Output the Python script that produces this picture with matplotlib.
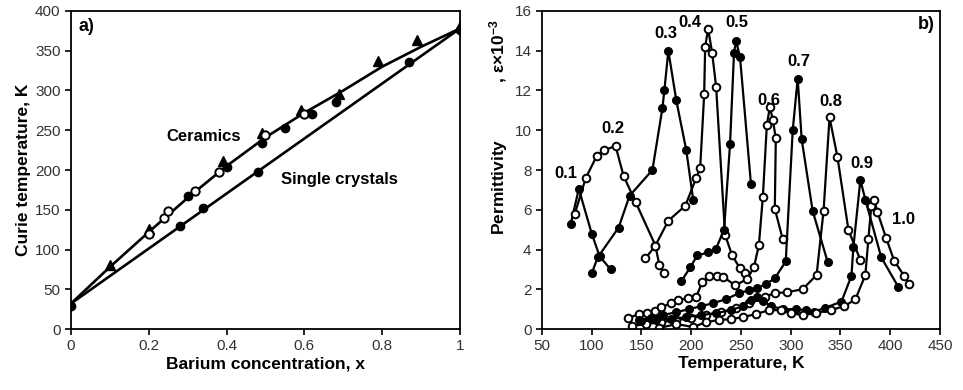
import matplotlib
matplotlib.use("Agg")
import matplotlib.pyplot as plt
from matplotlib import rcParams

rcParams.update({
    "font.family": ["Liberation Sans", "DejaVu Sans"],
    "mathtext.fontset": "custom",
    "mathtext.rm": "Liberation Sans",
    "mathtext.bf": "Liberation Sans:bold",
    "mathtext.default": "bf",
    "axes.unicode_minus": False,
})

# ---- panel a) Curie temperature vs Ba content
cer_line_x = [0, 0.1, 0.2, 0.3, 0.4, 0.5, 0.6, 0.7, 0.8, 0.9, 1.0]
cer_line_y = [32, 78, 122, 165, 205, 241, 272, 300, 330, 355, 378]
sc_line_x = [0, 1.0]
sc_line_y = [32, 378]

tri_x = [0.1, 0.2, 0.39, 0.49, 0.59, 0.69, 0.79, 0.89, 1.0]
tri_y = [80, 126, 211, 247, 275, 296, 337, 364, 381]
open_x = [0.2, 0.24, 0.25, 0.32, 0.38, 0.5, 0.6]
open_y = [119, 140, 149, 174, 197, 244, 270]
fill_x = [0, 0.3, 0.4, 0.49, 0.55, 0.62, 0.68, 1.0]
fill_y = [29, 167, 204, 234, 253, 271, 286, 376]
sc_x = [0.28, 0.34, 0.48, 0.87]
sc_y = [129, 152, 198, 336]

# ---- panel b) permittivity vs temperature, x = 0.1 ... 1.0
t01 = [79, 87, 100, 108, 119]
e01 = [5.3, 7.05, 4.8, 3.65, 3.0]
t02 = [83, 94, 105, 112, 124, 132, 144, 164, 168, 173]
e02 = [5.8, 7.6, 8.7, 9.0, 9.2, 7.7, 6.4, 4.2, 3.2, 2.8]
t03 = [100, 106, 127, 138, 161, 171, 173, 177, 185, 195, 202]
e03 = [2.8, 3.6, 5.1, 6.7, 8.0, 11.1, 12.0, 14.0, 11.5, 9.0, 6.5]
t04 = [154, 164, 177, 194, 205, 209, 213, 214, 217, 221, 225, 234, 241, 249, 254]
e04 = [3.55, 4.2, 5.45, 6.2, 7.6, 8.1, 11.8, 14.2, 15.1, 13.9, 12.2, 4.74, 3.72, 3.05, 2.8]
t05 = [190, 199, 206, 217, 225, 233, 239, 243, 245, 249, 260]
e05 = [2.4, 3.1, 3.7, 3.85, 4.05, 5.0, 9.3, 13.9, 14.5, 13.7, 7.3]
t06 = [136, 148, 156, 164, 170, 180, 187, 197, 205, 211, 218, 226, 232, 244, 256, 263,
       268, 272, 276, 279, 282, 285, 284, 292]
e06 = [0.55, 0.75, 0.8, 0.92, 1.1, 1.3, 1.46, 1.55, 1.62, 2.35, 2.67, 2.65, 2.63, 2.2, 2.5, 3.1,
       4.23, 6.66, 10.26, 11.18, 10.52, 9.6, 6.05, 4.51]
t07 = [148, 160, 172, 185, 198, 210, 222, 235, 248, 258, 266, 275, 284, 295, 302, 307, 311, 322, 337]
e07 = [0.45, 0.55, 0.7, 0.85, 1.0, 1.15, 1.3, 1.5, 1.8, 1.95, 2.05, 2.26, 2.55, 3.4, 10.0, 12.6, 9.55, 5.95, 3.39]
t08 = [140, 155, 170, 185, 200, 215, 230, 245, 258, 274, 284, 296, 312, 326, 333, 339, 347, 358, 370]
e08 = [0.15, 0.25, 0.35, 0.45, 0.55, 0.7, 0.85, 1.05, 1.3, 1.63, 1.8, 1.85, 2.0, 2.72, 5.95, 10.65, 8.64, 4.98, 3.47]
t09 = [150, 165, 180, 195, 210, 225, 240, 252, 260, 266, 272, 280, 292, 305, 315, 323, 334, 351,
       361, 363, 370, 375, 391, 408]
e09 = [0.4, 0.45, 0.5, 0.6, 0.7, 0.8, 0.95, 1.15, 1.45, 1.6, 1.4, 1.15, 1.0, 1.0, 0.95, 0.87, 1.05, 1.38,
       2.67, 4.14, 7.5, 6.5, 3.6, 2.13]
t10 = [168, 185, 202, 215, 228, 240, 252, 265, 278, 290, 300, 312, 325, 340, 354, 365, 375, 378,
       381, 384, 387, 396, 404, 414, 419]
e10 = [0.05, 0.25, 0.1, 0.35, 0.45, 0.5, 0.6, 0.75, 0.95, 0.95, 0.8, 0.7, 0.8, 0.95, 1.15, 1.49, 2.72, 4.51,
       6.2, 6.5, 5.9, 4.56, 3.43, 2.67, 2.26]

curves = [(t01, e01, True), (t02, e02, False), (t03, e03, True), (t04, e04, False),
          (t05, e05, True), (t06, e06, False), (t07, e07, True), (t08, e08, False),
          (t09, e09, True), (t10, e10, False)]

lab_txt = ['0.1', '0.2', '0.3', '0.4', '0.5', '0.6', '0.7', '0.8', '0.9', '1.0']
lab_t = [74, 121, 175, 199, 246, 278, 308, 340, 372, 413]
lab_e = [7.8, 10.1, 14.85, 15.4, 15.4, 11.5, 13.45, 11.45, 8.35, 5.5]

fig = plt.figure(figsize=(9.63, 3.9), dpi=100)
ax1 = fig.add_axes([0.0737, 0.1564, 0.404, 0.8154])
ax2 = fig.add_axes([0.5628, 0.1564, 0.4133, 0.8154])

font_lab = {'family': 'Liberation Sans', 'weight': 'bold', 'size': 12.5}

# panel a
ax1.plot(cer_line_x, cer_line_y, color='k', lw=1.9, zorder=2)
ax1.plot(sc_line_x, sc_line_y, color='k', lw=1.9, zorder=2)
ax1.plot(tri_x, tri_y, ls='none', marker='^', ms=7, color='k', zorder=3)
ax1.plot(open_x, open_y, ls='none', marker='o', ms=6, mfc='white', mec='k', mew=1.4, zorder=3)
ax1.plot(fill_x, fill_y, ls='none', marker='o', ms=6, color='k', zorder=3)
ax1.plot(sc_x, sc_y, ls='none', marker='o', ms=6, color='k', zorder=3)
ax1.set_xlim(0, 1)
ax1.set_ylim(0, 400)
ax1.set_xticks([0, 0.2, 0.4, 0.6, 0.8, 1.0])
ax1.set_xticklabels(['0', '0.2', '0.4', '0.6', '0.8', '1'])
ax1.set_yticks(range(0, 401, 50))
ax1.set_xlabel('Barium concentration, x', fontdict=font_lab, labelpad=2)
ax1.set_ylabel('Curie temperature, K', fontdict=font_lab, labelpad=3)
ax1.text(0.02, 380, 'a)', fontsize=13, weight='bold', va='center')
ax1.text(0.34, 242, 'Ceramics', fontsize=12, weight='bold', ha='center', va='center')
ax1.text(0.69, 188, 'Single crystals', fontsize=12, weight='bold', ha='center', va='center')

# panel b
for t, e, filled in curves:
    if filled:
        ax2.plot(t, e, color='k', lw=1.6, marker='o', ms=5.5, mfc='k', mec='k', mew=1.0)
    else:
        ax2.plot(t, e, color='k', lw=1.6, marker='o', ms=5.5, mfc='white', mec='k', mew=1.4)
for s, x, y in zip(lab_txt, lab_t, lab_e):
    ax2.text(x, y, s, fontsize=12, weight='bold', ha='center', va='center')
ax2.text(436, 15.3, 'b)', fontsize=13, weight='bold', ha='center', va='center')
ax2.set_xlim(50, 450)
ax2.set_ylim(0, 16)
ax2.set_xticks(range(50, 451, 50))
ax2.set_yticks(range(0, 17, 2))
ax2.set_xlabel('Temperature, K', fontdict=font_lab, labelpad=2)
ax2.set_ylabel('Permittivity            , ε×10$^{-3}$', fontdict=font_lab, labelpad=4)
ax2.yaxis.set_label_coords(-0.08, 0.635)

for ax in (ax1, ax2):
    for sp in ax.spines.values():
        sp.set_linewidth(1.3)
    ax.tick_params(direction='out', length=4, width=1.2, labelsize=11, colors='k',
                   labelcolor='#333333', top=False, right=False)

fig.savefig('out.png', dpi=100)
